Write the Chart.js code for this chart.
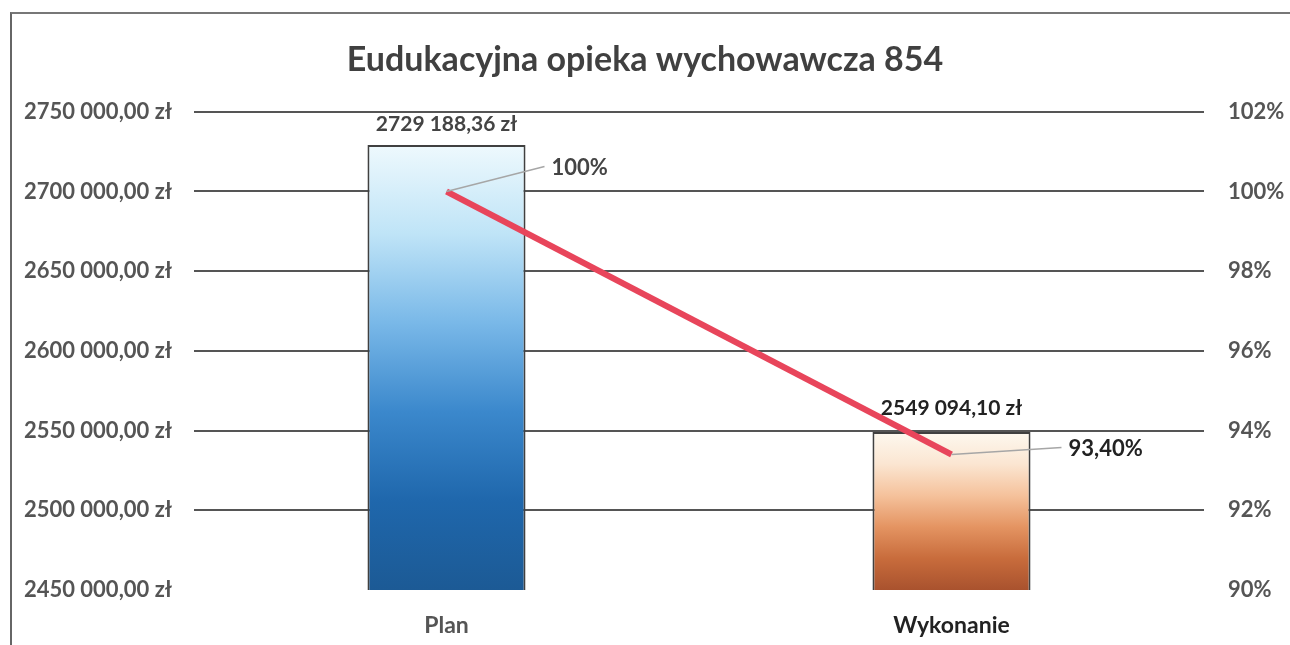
<!DOCTYPE html>
<html>
<head>
<meta charset="utf-8">
<script src="https://cdn.jsdelivr.net/npm/chart.js@4.4.0/dist/chart.umd.min.js"></script>
<style>
    html, body { margin: 0; padding: 0; background: #fff; }
    #wrap { position: relative; width: 1290px; height: 645px; }
    #frame { position: absolute; left: 10px; top: 12px; width: 1290px; height: 640px;
             border-left: 2px solid #666; border-top: 2px solid #777; }
    canvas { position: absolute; left: 0; top: 0; }
</style>
</head>
<body>
<div id="wrap">
    <div id="frame"></div>
    <canvas id="myChart" width="1290" height="645"></canvas>
</div>
<script>
const categories = ['Plan', 'Wykonanie'];
const amounts = [2729188.36, 2549094.10];
const amountLabels = ['2729 188,36 zł', '2549 094,10 zł'];
const percents = [100, 93.4];
const percentLabels = ['100%', '93,40%'];
const leftTicks = ['2450 000,00 zł', '2500 000,00 zł', '2550 000,00 zł', '2600 000,00 zł',
                   '2650 000,00 zł', '2700 000,00 zł', '2750 000,00 zł'];
const rightTicks = ['90%', '92%', '94%', '96%', '98%', '100%', '102%'];

const FONT = 'Lato, "Open Sans", sans-serif';

// gradient stops for each bar, top to bottom
const barStops = [
    ['#eef9fd', '#bfe4f7', '#79b8e8', '#3b88cc', '#1f67ac', '#1c5a95'],
    ['#fdf8ef', '#fbe6d2', '#f5c29c', '#e49462', '#c86c3c', '#a9522e']
];

function barGradient(context) {
    const chart = context.chart;
    if (!chart.chartArea) return barStops[context.dataIndex][3];
    const y = chart.scales.y;
    const top = y.getPixelForValue(amounts[context.dataIndex]);
    const bottom = y.bottom;
    const g = chart.ctx.createLinearGradient(0, top, 0, bottom);
    const stops = barStops[context.dataIndex];
    stops.forEach((c, i) => g.addColorStop(i / (stops.length - 1), c));
    return g;
}

const labelPlugin = {
    id: 'labels',
    afterDatasetsDraw(chart) {
        const ctx = chart.ctx;
        ctx.save();
        // amount labels above the bars (dataset 1)
        ctx.font = 'bold 21px ' + FONT;
        ctx.textAlign = 'center';
        ctx.textBaseline = 'middle';
        const bars = chart.getDatasetMeta(1).data;
        bars.forEach((bar, i) => {
            ctx.fillStyle = i === 0 ? '#444' : '#222';
            ctx.fillText(amountLabels[i], bar.x, bar.y - (i === 0 ? 21 : 24));
        });
        // percent labels with leader lines (dataset 0)
        const pts = chart.getDatasetMeta(0).data;
        const offs = [[105, -25], [117, -7]];
        ctx.font = 'bold 22px ' + FONT;
        pts.forEach((p, i) => {
            const lx = p.x + offs[i][0];
            const ly = p.y + offs[i][1];
            ctx.strokeStyle = '#a6a6a6';
            ctx.lineWidth = 1.5;
            ctx.beginPath();
            ctx.moveTo(p.x, p.y);
            ctx.lineTo(lx - 7, ly);
            ctx.stroke();
            ctx.fillStyle = i === 0 ? '#444' : '#222';
            ctx.textAlign = 'left';
            ctx.fillText(percentLabels[i], lx, ly + 1);
        });
        ctx.restore();
    }
};

const ctx = document.getElementById('myChart').getContext('2d');
const chart = new Chart(ctx, {
    type: 'bar',
    data: {
        labels: categories,
        datasets: [{
            type: 'line',
            data: percents,
            yAxisID: 'y1',
            borderColor: '#e8455b',
            borderWidth: 6,
            pointRadius: 0,
            order: 0
        }, {
            data: amounts,
            yAxisID: 'y',
            backgroundColor: barGradient,
            borderColor: '#404040',
            borderWidth: 2,
            borderSkipped: false,
            categoryPercentage: 1,
            barPercentage: 0.313,
            order: 1
        }]
    },
    options: {
        responsive: false,
        animation: false,
        layout: { padding: 0 },
        plugins: {
            legend: { display: false },
            tooltip: { enabled: false },
            title: {
                display: true,
                text: 'Eudukacyjna opieka wychowawcza 854',
                color: '#404040',
                font: { family: FONT, size: 34, weight: 'bold' },
                padding: { top: 40, bottom: 31 }
            }
        },
        scales: {
            x: {
                grid: { display: false },
                border: { display: false },
                ticks: {
                    color: ['#555', '#222'],
                    font: { family: FONT, size: 23, weight: 'bold' },
                    padding: 14
                },
                afterFit(scale) { scale.height = 55; }
            },
            y: {
                position: 'left',
                min: 2450000,
                max: 2750000,
                border: { display: false },
                grid: {
                    color: c => c.index === 0 ? 'rgba(0,0,0,0)' : '#555',
                    lineWidth: 2,
                    drawTicks: false
                },
                ticks: {
                    stepSize: 50000,
                    color: '#555',
                    font: { family: FONT, size: 22, weight: 'bold' },
                    padding: 22,
                    callback: (v, i) => leftTicks[i]
                },
                afterFit(scale) { scale.width = 194; }
            },
            y1: {
                position: 'right',
                min: 90,
                max: 102,
                border: { display: false },
                grid: { display: false, drawTicks: false },
                ticks: {
                    stepSize: 2,
                    color: '#555',
                    font: { family: FONT, size: 22, weight: 'bold' },
                    padding: 24,
                    callback: (v, i) => rightTicks[i]
                },
                afterFit(scale) { scale.width = 86; }
            }
        }
    },
    plugins: [labelPlugin]
});
</script>
</body>
</html>
